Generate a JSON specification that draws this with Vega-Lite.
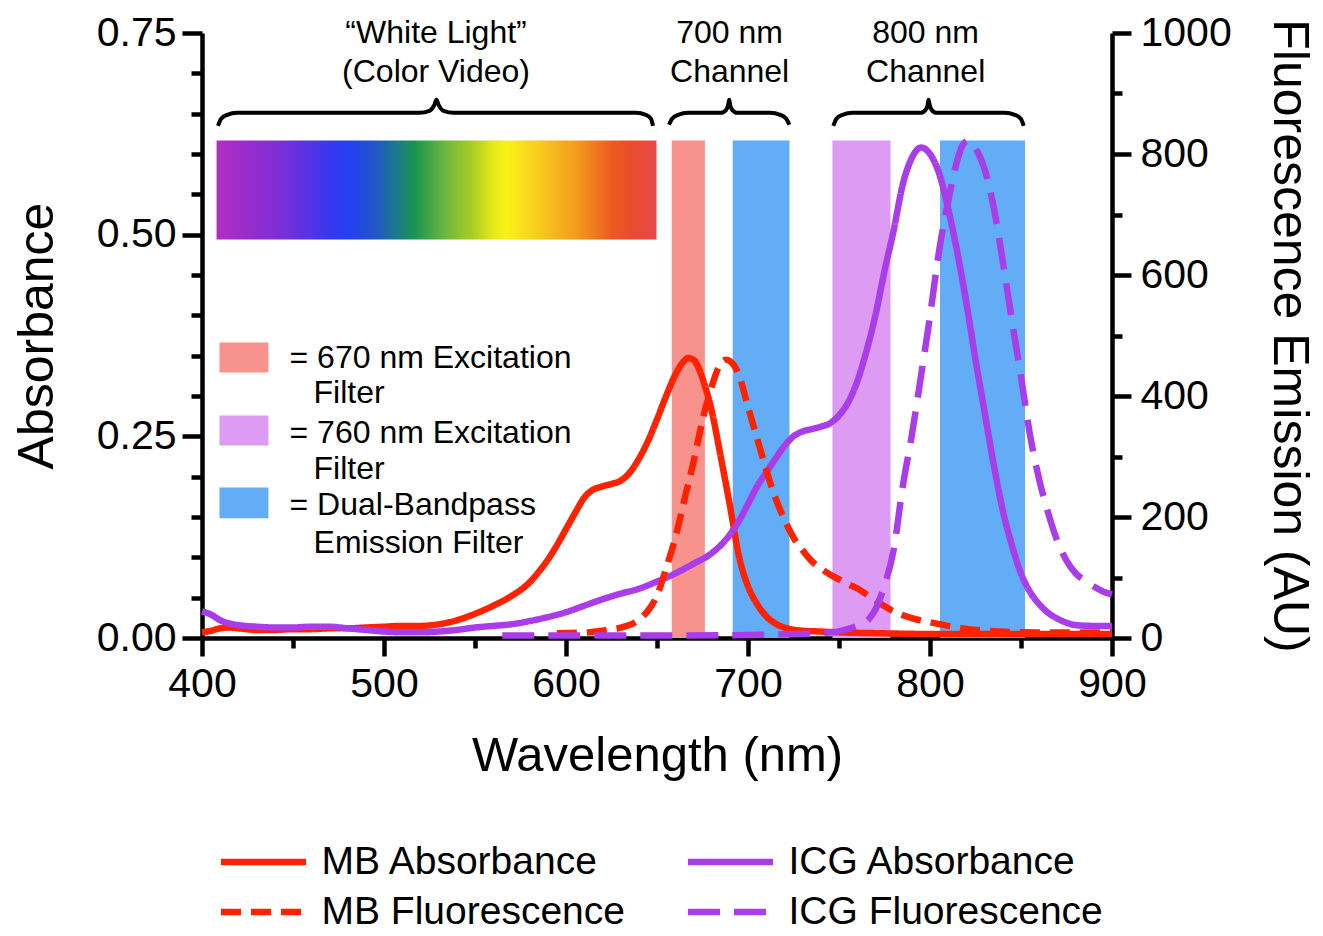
{
  "$schema": "https://vega.github.io/schema/vega-lite/v6.json",
  "width": 910,
  "height": 605,
  "autosize": "none",
  "padding": {"left": 202, "top": 33, "right": 211, "bottom": 298},
  "background": "white",
  "config": {
    "font": "Liberation Sans",
    "view": {"stroke": null},
    "axis": {
      "domainColor": "black", "domainWidth": 4.5, "tickColor": "black", "tickWidth": 4.5,
      "labelColor": "black", "labelFontSize": 41, "labelFont": "Liberation Sans",
      "titleColor": "black", "titleFontSize": 50, "titleFontWeight": "normal", "titleFont": "Liberation Sans",
      "grid": false, "labelFlush": false, "labelOverlap": false
    }
  },
  "datasets": {
    "spectrum": [{"start": 408.0, "end": 649.7}],
    "bands": [
      {"filter": "670 nm Excitation", "start": 658.1, "end": 676.3},
      {"filter": "Dual-Bandpass Emission", "start": 691.6, "end": 722.8},
      {"filter": "760 nm Excitation", "start": 746.4, "end": 778.3},
      {"filter": "Dual-Bandpass Emission", "start": 805.5, "end": 852.2}
    ],
    "swatches": [
      {"filter": "670 nm Excitation", "top": 0.3663, "bottom": 0.3292},
      {"filter": "760 nm Excitation", "top": 0.2759, "bottom": 0.2387},
      {"filter": "Dual-Bandpass Emission", "top": 0.1867, "bottom": 0.1483}
    ],
    "keytext": [
      {"label": "= 670 nm Excitation", "wl": 448.1, "v": 0.3465},
      {"label": "Filter", "wl": 461.3, "v": 0.3032},
      {"label": "= 760 nm Excitation", "wl": 448.1, "v": 0.2537},
      {"label": "Filter", "wl": 461.3, "v": 0.2091},
      {"label": "= Dual-Bandpass", "wl": 448.1, "v": 0.1645},
      {"label": "Emission Filter", "wl": 461.3, "v": 0.1174}
    ],
    "headers": [
      {"label": "“White Light”", "wl": 528.6, "v": 0.7504},
      {"label": "(Color Video)", "wl": 528.6, "v": 0.702},
      {"label": "700 nm", "wl": 689.9, "v": 0.7504},
      {"label": "Channel", "wl": 689.9, "v": 0.702},
      {"label": "800 nm", "wl": 797.6, "v": 0.7504},
      {"label": "Channel", "wl": 797.6, "v": 0.702}
    ],
    "braces": [
      {"brace": "white", "wl": 408.8, "v": 0.6349},
      {"brace": "white", "wl": 410.5, "v": 0.6436},
      {"brace": "white", "wl": 413.8, "v": 0.6485},
      {"brace": "white", "wl": 419.3, "v": 0.651},
      {"brace": "white", "wl": 519.5, "v": 0.651},
      {"brace": "white", "wl": 525.0, "v": 0.6535},
      {"brace": "white", "wl": 527.7, "v": 0.6609},
      {"brace": "white", "wl": 528.8, "v": 0.6671},
      {"brace": "white", "wl": 530.0, "v": 0.6609},
      {"brace": "white", "wl": 532.7, "v": 0.6535},
      {"brace": "white", "wl": 538.2, "v": 0.651},
      {"brace": "white", "wl": 638.4, "v": 0.651},
      {"brace": "white", "wl": 643.9, "v": 0.6485},
      {"brace": "white", "wl": 646.7, "v": 0.6436},
      {"brace": "white", "wl": 647.8, "v": 0.6349},
      {"brace": "c700", "wl": 656.6, "v": 0.6362},
      {"brace": "c700", "wl": 658.3, "v": 0.6436},
      {"brace": "c700", "wl": 661.6, "v": 0.6485},
      {"brace": "c700", "wl": 667.1, "v": 0.651},
      {"brace": "c700", "wl": 685.2, "v": 0.651},
      {"brace": "c700", "wl": 688.0, "v": 0.6547},
      {"brace": "c700", "wl": 689.1, "v": 0.6609},
      {"brace": "c700", "wl": 689.7, "v": 0.6671},
      {"brace": "c700", "wl": 690.2, "v": 0.6609},
      {"brace": "c700", "wl": 691.3, "v": 0.6547},
      {"brace": "c700", "wl": 694.1, "v": 0.651},
      {"brace": "c700", "wl": 712.2, "v": 0.651},
      {"brace": "c700", "wl": 717.7, "v": 0.6485},
      {"brace": "c700", "wl": 721.0, "v": 0.6436},
      {"brace": "c700", "wl": 722.7, "v": 0.6362},
      {"brace": "c800", "wl": 746.9, "v": 0.6349},
      {"brace": "c800", "wl": 748.6, "v": 0.6436},
      {"brace": "c800", "wl": 751.9, "v": 0.6485},
      {"brace": "c800", "wl": 757.4, "v": 0.651},
      {"brace": "c800", "wl": 794.8, "v": 0.651},
      {"brace": "c800", "wl": 797.6, "v": 0.6547},
      {"brace": "c800", "wl": 798.7, "v": 0.6609},
      {"brace": "c800", "wl": 799.2, "v": 0.6671},
      {"brace": "c800", "wl": 799.8, "v": 0.6609},
      {"brace": "c800", "wl": 800.9, "v": 0.6547},
      {"brace": "c800", "wl": 803.6, "v": 0.651},
      {"brace": "c800", "wl": 841.1, "v": 0.651},
      {"brace": "c800", "wl": 846.6, "v": 0.6485},
      {"brace": "c800", "wl": 849.9, "v": 0.6436},
      {"brace": "c800", "wl": 851.5, "v": 0.6349}
    ],
    "curves": [
      {"series": "MB Absorbance", "wl": 400, "v": 0.007},
      {"series": "MB Absorbance", "wl": 405, "v": 0.009},
      {"series": "MB Absorbance", "wl": 410, "v": 0.012},
      {"series": "MB Absorbance", "wl": 415, "v": 0.013},
      {"series": "MB Absorbance", "wl": 420, "v": 0.012},
      {"series": "MB Absorbance", "wl": 430, "v": 0.010},
      {"series": "MB Absorbance", "wl": 440, "v": 0.010},
      {"series": "MB Absorbance", "wl": 450, "v": 0.011},
      {"series": "MB Absorbance", "wl": 460, "v": 0.011},
      {"series": "MB Absorbance", "wl": 470, "v": 0.012},
      {"series": "MB Absorbance", "wl": 480, "v": 0.012},
      {"series": "MB Absorbance", "wl": 490, "v": 0.013},
      {"series": "MB Absorbance", "wl": 500, "v": 0.014},
      {"series": "MB Absorbance", "wl": 510, "v": 0.015},
      {"series": "MB Absorbance", "wl": 520, "v": 0.015},
      {"series": "MB Absorbance", "wl": 530, "v": 0.017},
      {"series": "MB Absorbance", "wl": 540, "v": 0.022},
      {"series": "MB Absorbance", "wl": 550, "v": 0.030},
      {"series": "MB Absorbance", "wl": 560, "v": 0.040},
      {"series": "MB Absorbance", "wl": 570, "v": 0.052},
      {"series": "MB Absorbance", "wl": 580, "v": 0.069},
      {"series": "MB Absorbance", "wl": 585, "v": 0.082},
      {"series": "MB Absorbance", "wl": 590, "v": 0.097},
      {"series": "MB Absorbance", "wl": 595, "v": 0.115},
      {"series": "MB Absorbance", "wl": 600, "v": 0.135},
      {"series": "MB Absorbance", "wl": 605, "v": 0.155},
      {"series": "MB Absorbance", "wl": 610, "v": 0.174},
      {"series": "MB Absorbance", "wl": 615, "v": 0.184},
      {"series": "MB Absorbance", "wl": 620, "v": 0.188},
      {"series": "MB Absorbance", "wl": 625, "v": 0.191},
      {"series": "MB Absorbance", "wl": 630, "v": 0.195},
      {"series": "MB Absorbance", "wl": 635, "v": 0.205},
      {"series": "MB Absorbance", "wl": 640, "v": 0.222},
      {"series": "MB Absorbance", "wl": 645, "v": 0.244},
      {"series": "MB Absorbance", "wl": 650, "v": 0.271},
      {"series": "MB Absorbance", "wl": 655, "v": 0.300},
      {"series": "MB Absorbance", "wl": 660, "v": 0.326},
      {"series": "MB Absorbance", "wl": 664, "v": 0.341},
      {"series": "MB Absorbance", "wl": 667, "v": 0.347},
      {"series": "MB Absorbance", "wl": 670, "v": 0.345},
      {"series": "MB Absorbance", "wl": 673, "v": 0.334},
      {"series": "MB Absorbance", "wl": 676, "v": 0.315},
      {"series": "MB Absorbance", "wl": 680, "v": 0.282},
      {"series": "MB Absorbance", "wl": 685, "v": 0.225},
      {"series": "MB Absorbance", "wl": 690, "v": 0.165},
      {"series": "MB Absorbance", "wl": 695, "v": 0.102},
      {"series": "MB Absorbance", "wl": 700, "v": 0.064},
      {"series": "MB Absorbance", "wl": 705, "v": 0.042},
      {"series": "MB Absorbance", "wl": 710, "v": 0.027},
      {"series": "MB Absorbance", "wl": 715, "v": 0.018},
      {"series": "MB Absorbance", "wl": 720, "v": 0.013},
      {"series": "MB Absorbance", "wl": 730, "v": 0.009},
      {"series": "MB Absorbance", "wl": 740, "v": 0.008},
      {"series": "MB Absorbance", "wl": 750, "v": 0.007},
      {"series": "MB Absorbance", "wl": 770, "v": 0.006},
      {"series": "MB Absorbance", "wl": 800, "v": 0.005},
      {"series": "MB Absorbance", "wl": 850, "v": 0.005},
      {"series": "MB Absorbance", "wl": 900, "v": 0.005},
      {"series": "ICG Absorbance", "wl": 400, "v": 0.033},
      {"series": "ICG Absorbance", "wl": 405, "v": 0.029},
      {"series": "ICG Absorbance", "wl": 410, "v": 0.022},
      {"series": "ICG Absorbance", "wl": 415, "v": 0.018},
      {"series": "ICG Absorbance", "wl": 420, "v": 0.016},
      {"series": "ICG Absorbance", "wl": 430, "v": 0.014},
      {"series": "ICG Absorbance", "wl": 440, "v": 0.013},
      {"series": "ICG Absorbance", "wl": 450, "v": 0.013},
      {"series": "ICG Absorbance", "wl": 460, "v": 0.014},
      {"series": "ICG Absorbance", "wl": 470, "v": 0.014},
      {"series": "ICG Absorbance", "wl": 480, "v": 0.012},
      {"series": "ICG Absorbance", "wl": 490, "v": 0.010},
      {"series": "ICG Absorbance", "wl": 500, "v": 0.008},
      {"series": "ICG Absorbance", "wl": 510, "v": 0.007},
      {"series": "ICG Absorbance", "wl": 520, "v": 0.007},
      {"series": "ICG Absorbance", "wl": 530, "v": 0.008},
      {"series": "ICG Absorbance", "wl": 540, "v": 0.010},
      {"series": "ICG Absorbance", "wl": 550, "v": 0.013},
      {"series": "ICG Absorbance", "wl": 560, "v": 0.015},
      {"series": "ICG Absorbance", "wl": 570, "v": 0.017},
      {"series": "ICG Absorbance", "wl": 580, "v": 0.021},
      {"series": "ICG Absorbance", "wl": 590, "v": 0.026},
      {"series": "ICG Absorbance", "wl": 600, "v": 0.032},
      {"series": "ICG Absorbance", "wl": 610, "v": 0.040},
      {"series": "ICG Absorbance", "wl": 620, "v": 0.048},
      {"series": "ICG Absorbance", "wl": 630, "v": 0.055},
      {"series": "ICG Absorbance", "wl": 640, "v": 0.061},
      {"series": "ICG Absorbance", "wl": 650, "v": 0.070},
      {"series": "ICG Absorbance", "wl": 660, "v": 0.080},
      {"series": "ICG Absorbance", "wl": 670, "v": 0.092},
      {"series": "ICG Absorbance", "wl": 680, "v": 0.105},
      {"series": "ICG Absorbance", "wl": 690, "v": 0.128},
      {"series": "ICG Absorbance", "wl": 695, "v": 0.145},
      {"series": "ICG Absorbance", "wl": 700, "v": 0.166},
      {"series": "ICG Absorbance", "wl": 705, "v": 0.188},
      {"series": "ICG Absorbance", "wl": 710, "v": 0.205},
      {"series": "ICG Absorbance", "wl": 715, "v": 0.222},
      {"series": "ICG Absorbance", "wl": 720, "v": 0.238},
      {"series": "ICG Absorbance", "wl": 725, "v": 0.250},
      {"series": "ICG Absorbance", "wl": 730, "v": 0.256},
      {"series": "ICG Absorbance", "wl": 735, "v": 0.259},
      {"series": "ICG Absorbance", "wl": 740, "v": 0.262},
      {"series": "ICG Absorbance", "wl": 745, "v": 0.266},
      {"series": "ICG Absorbance", "wl": 750, "v": 0.276},
      {"series": "ICG Absorbance", "wl": 755, "v": 0.292},
      {"series": "ICG Absorbance", "wl": 760, "v": 0.318},
      {"series": "ICG Absorbance", "wl": 765, "v": 0.355},
      {"series": "ICG Absorbance", "wl": 770, "v": 0.400},
      {"series": "ICG Absorbance", "wl": 775, "v": 0.455},
      {"series": "ICG Absorbance", "wl": 780, "v": 0.505},
      {"series": "ICG Absorbance", "wl": 785, "v": 0.562},
      {"series": "ICG Absorbance", "wl": 790, "v": 0.595},
      {"series": "ICG Absorbance", "wl": 795, "v": 0.608},
      {"series": "ICG Absorbance", "wl": 800, "v": 0.600},
      {"series": "ICG Absorbance", "wl": 805, "v": 0.576},
      {"series": "ICG Absorbance", "wl": 810, "v": 0.532},
      {"series": "ICG Absorbance", "wl": 815, "v": 0.478},
      {"series": "ICG Absorbance", "wl": 820, "v": 0.415},
      {"series": "ICG Absorbance", "wl": 825, "v": 0.345},
      {"series": "ICG Absorbance", "wl": 830, "v": 0.280},
      {"series": "ICG Absorbance", "wl": 835, "v": 0.215},
      {"series": "ICG Absorbance", "wl": 840, "v": 0.158},
      {"series": "ICG Absorbance", "wl": 845, "v": 0.115},
      {"series": "ICG Absorbance", "wl": 850, "v": 0.080},
      {"series": "ICG Absorbance", "wl": 855, "v": 0.057},
      {"series": "ICG Absorbance", "wl": 860, "v": 0.042},
      {"series": "ICG Absorbance", "wl": 865, "v": 0.031},
      {"series": "ICG Absorbance", "wl": 870, "v": 0.024},
      {"series": "ICG Absorbance", "wl": 875, "v": 0.019},
      {"series": "ICG Absorbance", "wl": 880, "v": 0.016},
      {"series": "ICG Absorbance", "wl": 890, "v": 0.015},
      {"series": "ICG Absorbance", "wl": 900, "v": 0.015},
      {"series": "MB Fluorescence", "wl": 595, "v": 8},
      {"series": "MB Fluorescence", "wl": 610, "v": 9},
      {"series": "MB Fluorescence", "wl": 620, "v": 12},
      {"series": "MB Fluorescence", "wl": 630, "v": 17},
      {"series": "MB Fluorescence", "wl": 640, "v": 30},
      {"series": "MB Fluorescence", "wl": 645, "v": 45},
      {"series": "MB Fluorescence", "wl": 650, "v": 70},
      {"series": "MB Fluorescence", "wl": 655, "v": 115},
      {"series": "MB Fluorescence", "wl": 660, "v": 165},
      {"series": "MB Fluorescence", "wl": 665, "v": 228},
      {"series": "MB Fluorescence", "wl": 670, "v": 290},
      {"series": "MB Fluorescence", "wl": 675, "v": 360},
      {"series": "MB Fluorescence", "wl": 680, "v": 415},
      {"series": "MB Fluorescence", "wl": 684, "v": 448},
      {"series": "MB Fluorescence", "wl": 688, "v": 460},
      {"series": "MB Fluorescence", "wl": 692, "v": 452},
      {"series": "MB Fluorescence", "wl": 695, "v": 435},
      {"series": "MB Fluorescence", "wl": 700, "v": 382},
      {"series": "MB Fluorescence", "wl": 705, "v": 330},
      {"series": "MB Fluorescence", "wl": 710, "v": 278},
      {"series": "MB Fluorescence", "wl": 715, "v": 232},
      {"series": "MB Fluorescence", "wl": 720, "v": 196},
      {"series": "MB Fluorescence", "wl": 725, "v": 166},
      {"series": "MB Fluorescence", "wl": 730, "v": 145},
      {"series": "MB Fluorescence", "wl": 735, "v": 127},
      {"series": "MB Fluorescence", "wl": 740, "v": 115},
      {"series": "MB Fluorescence", "wl": 745, "v": 105},
      {"series": "MB Fluorescence", "wl": 750, "v": 97},
      {"series": "MB Fluorescence", "wl": 755, "v": 89},
      {"series": "MB Fluorescence", "wl": 760, "v": 82},
      {"series": "MB Fluorescence", "wl": 770, "v": 62},
      {"series": "MB Fluorescence", "wl": 780, "v": 44},
      {"series": "MB Fluorescence", "wl": 790, "v": 33},
      {"series": "MB Fluorescence", "wl": 800, "v": 26},
      {"series": "MB Fluorescence", "wl": 810, "v": 20},
      {"series": "MB Fluorescence", "wl": 820, "v": 15},
      {"series": "MB Fluorescence", "wl": 830, "v": 12},
      {"series": "MB Fluorescence", "wl": 845, "v": 10},
      {"series": "MB Fluorescence", "wl": 870, "v": 9},
      {"series": "MB Fluorescence", "wl": 900, "v": 9},
      {"series": "ICG Fluorescence", "wl": 565, "v": 4},
      {"series": "ICG Fluorescence", "wl": 600, "v": 4},
      {"series": "ICG Fluorescence", "wl": 650, "v": 4},
      {"series": "ICG Fluorescence", "wl": 700, "v": 5},
      {"series": "ICG Fluorescence", "wl": 720, "v": 6},
      {"series": "ICG Fluorescence", "wl": 740, "v": 8},
      {"series": "ICG Fluorescence", "wl": 750, "v": 11},
      {"series": "ICG Fluorescence", "wl": 755, "v": 15},
      {"series": "ICG Fluorescence", "wl": 760, "v": 20},
      {"series": "ICG Fluorescence", "wl": 765, "v": 27},
      {"series": "ICG Fluorescence", "wl": 770, "v": 47},
      {"series": "ICG Fluorescence", "wl": 775, "v": 87},
      {"series": "ICG Fluorescence", "wl": 780, "v": 145},
      {"series": "ICG Fluorescence", "wl": 785, "v": 250},
      {"series": "ICG Fluorescence", "wl": 790, "v": 335},
      {"series": "ICG Fluorescence", "wl": 795, "v": 432},
      {"series": "ICG Fluorescence", "wl": 800, "v": 532},
      {"series": "ICG Fluorescence", "wl": 805, "v": 640},
      {"series": "ICG Fluorescence", "wl": 810, "v": 722},
      {"series": "ICG Fluorescence", "wl": 815, "v": 790},
      {"series": "ICG Fluorescence", "wl": 818, "v": 815},
      {"series": "ICG Fluorescence", "wl": 821, "v": 822},
      {"series": "ICG Fluorescence", "wl": 824, "v": 814},
      {"series": "ICG Fluorescence", "wl": 827, "v": 798},
      {"series": "ICG Fluorescence", "wl": 830, "v": 775},
      {"series": "ICG Fluorescence", "wl": 835, "v": 712},
      {"series": "ICG Fluorescence", "wl": 840, "v": 622},
      {"series": "ICG Fluorescence", "wl": 845, "v": 525},
      {"series": "ICG Fluorescence", "wl": 850, "v": 432},
      {"series": "ICG Fluorescence", "wl": 855, "v": 335},
      {"series": "ICG Fluorescence", "wl": 860, "v": 262},
      {"series": "ICG Fluorescence", "wl": 865, "v": 206},
      {"series": "ICG Fluorescence", "wl": 870, "v": 160},
      {"series": "ICG Fluorescence", "wl": 875, "v": 128},
      {"series": "ICG Fluorescence", "wl": 880, "v": 107},
      {"series": "ICG Fluorescence", "wl": 885, "v": 95},
      {"series": "ICG Fluorescence", "wl": 890, "v": 85},
      {"series": "ICG Fluorescence", "wl": 895, "v": 77},
      {"series": "ICG Fluorescence", "wl": 900, "v": 72}
    ]
  },
  "resolve": {"scale": {"y": "independent"}, "axis": {"x": "independent", "y": "independent"}},
  "layer": [
    {
      "data": {"name": "spectrum"},
      "mark": {"type": "rect", "fill": {"gradient": "linear", "x1": 0, "y1": 0, "x2": 1, "y2": 0, "stops": [
        {"offset": 0.0, "color": "#B22FC2"},
        {"offset": 0.05, "color": "#A02CC8"},
        {"offset": 0.15, "color": "#7A2FD8"},
        {"offset": 0.25, "color": "#3A37EE"},
        {"offset": 0.3, "color": "#2440F2"},
        {"offset": 0.36, "color": "#2256C8"},
        {"offset": 0.41, "color": "#1C7A8C"},
        {"offset": 0.45, "color": "#1A9450"},
        {"offset": 0.52, "color": "#6CB83E"},
        {"offset": 0.58, "color": "#A8CC24"},
        {"offset": 0.63, "color": "#E6EA18"},
        {"offset": 0.66, "color": "#F8F218"},
        {"offset": 0.73, "color": "#F8CC1C"},
        {"offset": 0.82, "color": "#F39A1E"},
        {"offset": 0.9, "color": "#EC5A20"},
        {"offset": 0.95, "color": "#E84C30"},
        {"offset": 1.0, "color": "#E84848"}
      ]}},
      "encoding": {
        "x": {"field": "start", "type": "quantitative", "scale": {"domain": [400, 900], "nice": false, "zero": false}, "axis": null},
        "x2": {"field": "end"},
        "y": {"datum": 0.4939, "type": "quantitative", "scale": {"domain": [0, 0.75], "nice": false, "zero": false}, "axis": null},
        "y2": {"datum": 0.6166}
      }
    },
    {
      "data": {"name": "bands"},
      "mark": {"type": "rect"},
      "encoding": {
        "x": {"field": "start", "type": "quantitative", "scale": {"domain": [400, 900], "nice": false, "zero": false},
              "axis": {"orient": "bottom", "values": [450, 550, 650, 750, 850], "tickSize": 10, "labels": false, "domain": false, "title": null}},
        "x2": {"field": "end"},
        "y": {"datum": 0, "type": "quantitative", "scale": {"domain": [0, 0.75], "nice": false, "zero": false},
              "axis": {"orient": "left", "values": [0.05, 0.1, 0.15, 0.2, 0.3, 0.35, 0.4, 0.45, 0.55, 0.6, 0.65, 0.7], "tickSize": 11, "labels": false, "domain": false, "title": null}},
        "y2": {"datum": 0.6166},
        "fill": {"field": "filter", "type": "nominal", "legend": null,
                 "scale": {"domain": ["670 nm Excitation", "760 nm Excitation", "Dual-Bandpass Emission"], "range": ["#F7928C", "#DE9BF4", "#62ADF6"]}}
      }
    },
    {
      "data": {"name": "swatches"},
      "mark": {"type": "rect"},
      "encoding": {
        "x": {"datum": 409.6, "type": "quantitative", "scale": {"domain": [400, 900], "nice": false, "zero": false}, "axis": null},
        "x2": {"datum": 436.5},
        "y": {"field": "bottom", "type": "quantitative", "scale": {"domain": [0, 0.75], "nice": false, "zero": false}, "axis": null},
        "y2": {"field": "top"},
        "fill": {"field": "filter", "type": "nominal", "legend": null}
      }
    },
    {
      "data": {"name": "keytext"},
      "mark": {"type": "text", "align": "left", "baseline": "middle", "fontSize": 32, "color": "black"},
      "encoding": {
        "x": {"field": "wl", "type": "quantitative", "scale": {"domain": [400, 900], "nice": false, "zero": false}, "axis": null},
        "y": {"field": "v", "type": "quantitative", "scale": {"domain": [0, 0.75], "nice": false, "zero": false}, "axis": null},
        "text": {"field": "label"}
      }
    },
    {
      "data": {"name": "headers"},
      "mark": {"type": "text", "align": "center", "baseline": "middle", "fontSize": 32, "color": "black"},
      "encoding": {
        "x": {"field": "wl", "type": "quantitative", "scale": {"domain": [400, 900], "nice": false, "zero": false}, "axis": null},
        "y": {"field": "v", "type": "quantitative", "scale": {"domain": [0, 0.75], "nice": false, "zero": false}, "axis": null},
        "text": {"field": "label"}
      }
    },
    {
      "data": {"name": "braces"},
      "mark": {"type": "line", "color": "black", "strokeWidth": 4, "interpolate": "monotone", "strokeCap": "butt"},
      "encoding": {
        "x": {"field": "wl", "type": "quantitative", "scale": {"domain": [400, 900], "nice": false, "zero": false}, "axis": null},
        "y": {"field": "v", "type": "quantitative", "scale": {"domain": [0, 0.75], "nice": false, "zero": false}, "axis": null},
        "detail": {"field": "brace"}
      }
    },
    {
      "data": {"name": "curves"},
      "transform": [{"filter": {"field": "series", "oneOf": ["MB Absorbance", "ICG Absorbance"]}}],
      "mark": {"type": "line", "interpolate": "monotone", "strokeCap": "butt", "strokeJoin": "round"},
      "encoding": {
        "x": {"field": "wl", "type": "quantitative", "scale": {"domain": [400, 900], "nice": false, "zero": false},
              "axis": {"orient": "bottom", "values": [400, 500, 600, 700, 800, 900], "tickSize": 18, "labelPadding": 8, "title": "Wavelength (nm)", "titleFontSize": 49, "titlePadding": 27}},
        "y": {"field": "v", "type": "quantitative", "scale": {"domain": [0, 0.75], "nice": false, "zero": false},
              "axis": {"orient": "left", "values": [0, 0.25, 0.5, 0.75], "format": ".2f", "tickSize": 20, "labelPadding": 6, "title": "Absorbance", "titlePadding": 34}},
        "detail": {"field": "series"},
        "stroke": {"field": "series", "type": "nominal",
                   "scale": {"domain": ["MB Absorbance", "MB Fluorescence", "ICG Absorbance", "ICG Fluorescence"], "range": ["#FF2200", "#FF2200", "#AA3DEA", "#AA3DEA"]},
                   "legend": {"orient": "none", "legendX": 15.5, "legendY": 809, "columns": 2, "title": null, "symbolType": "stroke", "symbolSize": 7225, "clipHeight": 40,
                              "labelFontSize": 39, "labelFont": "Liberation Sans", "labelColor": "black", "labelLimit": 600, "labelOffset": 12, "rowPadding": 10, "columnPadding": 59, "padding": 0}},
        "strokeDash": {"field": "series", "type": "nominal",
                       "scale": {"domain": ["MB Absorbance", "MB Fluorescence", "ICG Absorbance", "ICG Fluorescence"], "range": [[1, 0], [20, 10], [1, 0], [32, 14]]}},
        "strokeWidth": {"field": "series", "type": "nominal",
                        "scale": {"domain": ["MB Absorbance", "MB Fluorescence", "ICG Absorbance", "ICG Fluorescence"], "range": [6.5, 6.5, 6.5, 10]}}
      }
    },
    {
      "data": {"name": "curves"},
      "transform": [{"filter": {"field": "series", "equal": "MB Fluorescence"}}],
      "mark": {"type": "line", "interpolate": "monotone", "strokeCap": "butt", "strokeJoin": "round"},
      "encoding": {
        "x": {"field": "wl", "type": "quantitative", "scale": {"domain": [400, 900], "nice": false, "zero": false}, "axis": null},
        "y": {"field": "v", "type": "quantitative", "scale": {"domain": [0, 1000], "nice": false, "zero": false},
              "axis": {"orient": "right", "values": [0, 200, 400, 600, 800, 1000], "format": "d", "tickSize": 19, "labelPadding": 9, "title": "Fluorescence Emission (AU)", "titleAngle": 90, "titlePadding": 32}},
        "stroke": {"field": "series", "type": "nominal"},
        "strokeDash": {"field": "series", "type": "nominal"},
        "strokeWidth": {"field": "series", "type": "nominal"}
      }
    },
    {
      "data": {"name": "curves"},
      "transform": [{"filter": {"field": "series", "equal": "ICG Fluorescence"}}],
      "mark": {"type": "line", "interpolate": "monotone", "strokeCap": "butt", "strokeJoin": "round"},
      "encoding": {
        "x": {"field": "wl", "type": "quantitative", "scale": {"domain": [400, 900], "nice": false, "zero": false}, "axis": null},
        "y": {"field": "v", "type": "quantitative", "scale": {"domain": [0, 1000], "nice": false, "zero": false},
              "axis": {"orient": "right", "values": [100, 300, 500, 700, 900], "tickSize": 10, "labels": false, "domain": false, "title": null}},
        "stroke": {"field": "series", "type": "nominal"},
        "strokeDash": {"field": "series", "type": "nominal"},
        "strokeWidth": {"field": "series", "type": "nominal"}
      }
    }
  ]
}
